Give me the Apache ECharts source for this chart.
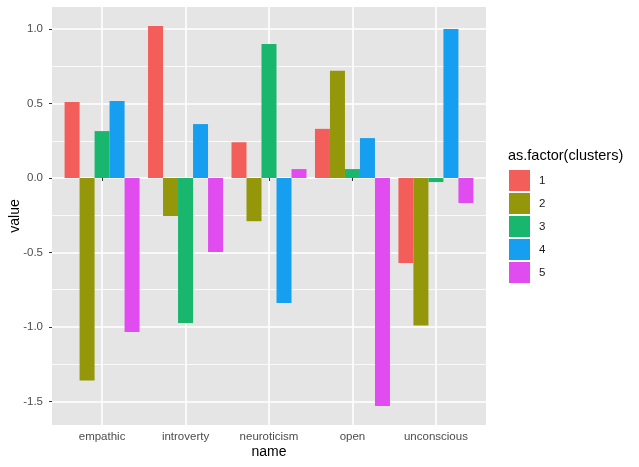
<!DOCTYPE html>
<html>
<head>
<meta charset="utf-8">
<script src="https://cdn.jsdelivr.net/npm/echarts@6/dist/echarts.min.js"></script>
<style>
  html, body { margin: 0; padding: 0; background: #fff; }
  #chart { width: 639px; height: 467px; }
</style>
</head>
<body>
<div id="chart"></div>
<script>
// data
var names = ['empathic', 'introverty', 'neuroticism', 'open', 'unconscious'];
var clusters = ['1', '2', '3', '4', '5'];
var cluster1 = [0.51, 1.02, 0.24, 0.33, -0.57];
var cluster2 = [-1.36, -0.255, -0.29, 0.72, -0.99];
var cluster3 = [0.315, -0.973, 0.90, 0.06, -0.027];
var cluster4 = [0.517, 0.362, -0.839, 0.268, 1.0];
var cluster5 = [-1.034, -0.497, 0.06, -1.53, -0.168];
var yTicks = [-1.5, -1.0, -0.5, 0.0, 0.5, 1.0];
var yMinor = [-1.25, -0.75, -0.25, 0.25, 0.75];

var colors = ['#F35E5A', '#94970A', '#19B66D', '#169FF1', '#E04CEF'];
var allValues = [cluster1, cluster2, cluster3, cluster4, cluster5];
var xPos = [1, 2, 3, 4, 5];

var font = 'Liberation Sans, Arial, sans-serif';

var series = [];
for (var i = 0; i < clusters.length; i++) {
    var vals = allValues[i];
    var pts = [];
    for (var j = 0; j < vals.length; j++) {
        pts.push([xPos[j], vals[j]]);
    }
    series.push({
        name: clusters[i],
        type: 'bar',
        xAxisIndex: 0,
        yAxisIndex: 0,
        data: pts,
        barWidth: 15,
        barGap: '0%',
        itemStyle: { color: colors[i] },
        emphasis: { disabled: true }
    });
}

var chart = echarts.init(document.getElementById('chart'));
chart.setOption({
    animation: false,
    grid: {
        left: 52, right: 153, top: 7, bottom: 42,
        containLabel: false,
        outerBoundsMode: 'none',
        show: true,
        backgroundColor: '#E5E5E5',
        borderWidth: 0
    },
    legend: {
        data: clusters,
        orient: 'vertical',
        left: 509,
        top: 170,
        padding: 0,
        icon: 'rect',
        itemWidth: 21,
        itemHeight: 21,
        itemGap: 2,
        selectedMode: false,
        textStyle: {
            fontFamily: font,
            fontSize: 11.5,
            color: '#1a1a1a',
            padding: [0, 0, 0, 4]
        }
    },
    graphic: [{
        type: 'text',
        left: 508,
        top: 148,
        style: {
            text: 'as.factor(clusters)',
            fontFamily: font,
            fontSize: 14.5,
            fill: '#000'
        }
    }],
    xAxis: [{
        type: 'value',
        min: 0.4,
        max: 5.6,
        name: 'name',
        nameLocation: 'middle',
        nameGap: 20,
        nameMoveOverlap: false,
        nameTextStyle: { fontFamily: font, fontSize: 14, color: '#000' },
        axisLine: { show: false },
        axisTick: {
            show: true,
            length: 3,
            customValues: xPos,
            lineStyle: { color: '#333', width: 1 }
        },
        axisLabel: {
            customValues: xPos,
            margin: 6,
            fontFamily: font,
            fontSize: 11.5,
            color: '#4d4d4d',
            formatter: function (v) {
                return names[Math.round(v) - 1];
            }
        },
        splitLine: { show: true, lineStyle: { color: '#fff', width: 1.6 } }
    }],
    yAxis: [{
        type: 'value',
        min: -1.658,
        max: 1.148,
        name: 'value',
        nameLocation: 'middle',
        nameGap: 30,
        nameMoveOverlap: false,
        nameTextStyle: { fontFamily: font, fontSize: 14, color: '#000' },
        axisLine: { show: false },
        axisTick: {
            show: true,
            length: 3,
            customValues: yTicks,
            lineStyle: { color: '#333', width: 1 }
        },
        axisLabel: {
            customValues: yTicks,
            margin: 9,
            fontFamily: font,
            fontSize: 11.5,
            color: '#4d4d4d',
            formatter: function (v) { return v.toFixed(1); }
        },
        splitLine: { show: true, lineStyle: { color: '#fff', width: 1.6 } }
    }, {
        type: 'value',
        min: -1.658,
        max: 1.148,
        position: 'left',
        axisLine: { show: false },
        axisTick: { show: false, customValues: yMinor },
        axisLabel: { show: false, customValues: yMinor },
        splitLine: { show: true, lineStyle: { color: '#fff', width: 0.8 } }
    }],
    series: series
});
</script>
</body>
</html>
